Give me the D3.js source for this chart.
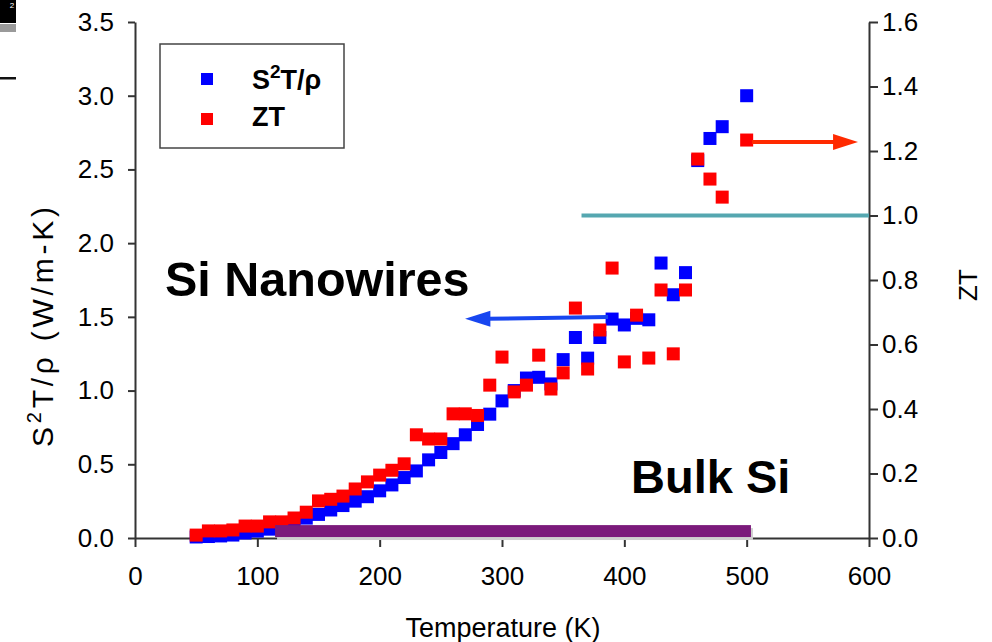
<!DOCTYPE html>
<html>
<head>
<meta charset="utf-8">
<script src="https://cdn.jsdelivr.net/npm/d3@7"></script>
<style>
  body { margin: 0; background: #fff; }
  svg { font-family: "Liberation Sans", Arial, sans-serif; }
</style>
</head>
<body>
<script>
// temperature (K) for each measured point
var temps = [50, 60, 70, 80, 90, 100, 110, 120, 130, 140, 150, 160, 170, 180, 190, 200,
  210, 220, 230, 240, 250, 260, 270, 280, 290, 300, 310, 320, 330, 340, 350, 360,
  370, 380, 390, 400, 410, 420, 430, 440, 450, 460, 470, 480, 500];

// S^2T/rho (W/m-K), left axis
var s2t = [0.007, 0.01, 0.014, 0.02, 0.034, 0.047, 0.06, 0.08, 0.10, 0.135, 0.16, 0.19, 0.22, 0.25, 0.28, 0.32,
  0.36, 0.41, 0.455, 0.53, 0.58, 0.64, 0.70, 0.77, 0.84, 0.93, 1.0, 1.085, 1.09, 1.045, 1.21, 1.36,
  1.22, 1.36, 1.485, 1.445, 1.49, 1.48, 1.865, 1.65, 1.80, 2.56, 2.71, 2.79, 3.0];

// ZT, right axis
var zt = [0.009, 0.022, 0.022, 0.025, 0.037, 0.037, 0.05, 0.05, 0.062, 0.08, 0.115, 0.12, 0.13, 0.152, 0.174, 0.195,
  0.21, 0.23, 0.32, 0.307, 0.307, 0.385, 0.385, 0.38, 0.474, 0.561, 0.453, 0.474, 0.567, 0.462, 0.512, 0.713,
  0.524, 0.645, 0.837, 0.546, 0.691, 0.558, 0.769, 0.571, 0.769, 1.175, 1.113, 1.057, 1.234];

var xTicks = [0, 100, 200, 300, 400, 500, 600];
var leftTicks = [0, 0.5, 1.0, 1.5, 2.0, 2.5, 3.0, 3.5];
var rightTicks = [0, 0.2, 0.4, 0.6, 0.8, 1.0, 1.2, 1.4, 1.6];

var width = 992, height = 642;
var axisColor = '#333';

var svg = d3.select('body').append('svg')
  .attr('width', width)
  .attr('height', height);

var x = d3.scaleLinear().domain([0, 600]).range([135, 869]);
var yL = d3.scaleLinear().domain([0, 3.5]).range([538, 22]);
var yR = d3.scaleLinear().domain([0, 1.6]).range([538, 22]);

// cropped bits of another figure in the top-left corner
svg.append('rect').attr('x', 0).attr('y', 0).attr('width', 16).attr('height', 23).attr('fill', '#000');
svg.append('rect').attr('x', 0).attr('y', 24).attr('width', 16).attr('height', 8).attr('fill', '#9a9a9a');
svg.append('text').attr('x', 12).attr('y', 8).attr('fill', '#fff').attr('font-size', '8px').attr('text-anchor', 'middle').text('2');
svg.append('rect').attr('x', 0).attr('y', 77).attr('width', 16).attr('height', 2.5).attr('fill', '#111');

// axes
function styleAxis(g) {
  g.select('.domain').attr('stroke', axisColor).attr('stroke-width', 2);
  g.selectAll('.tick line').attr('stroke', axisColor).attr('stroke-width', 2);
  g.selectAll('.tick text').attr('fill', '#000').attr('font-size', '26px')
    .attr('font-family', '"Liberation Sans", Arial, sans-serif');
}

svg.append('g')
  .attr('transform', 'translate(0,538)')
  .call(d3.axisBottom(x).tickValues(xTicks).tickFormat(d3.format('d')).tickSize(9).tickSizeOuter(0).tickPadding(20))
  .call(styleAxis);

svg.append('g')
  .attr('transform', 'translate(135,0)')
  .call(d3.axisLeft(yL).tickValues(leftTicks).tickFormat(d3.format('.1f')).tickSize(7).tickSizeOuter(0).tickPadding(14))
  .call(styleAxis);

svg.append('g')
  .attr('transform', 'translate(869,0)')
  .call(d3.axisRight(yR).tickValues(rightTicks).tickFormat(d3.format('.1f')).tickSize(9).tickSizeOuter(0).tickPadding(4))
  .call(styleAxis);

// axis titles
svg.append('text')
  .attr('x', (x(0) + x(600)) / 2 + 1)
  .attr('y', 637)
  .attr('text-anchor', 'middle')
  .attr('font-size', '27px')
  .text('Temperature (K)');

var yt = svg.append('text')
  .attr('transform', 'translate(53,327)rotate(-90)')
  .attr('text-anchor', 'middle')
  .attr('font-size', '30px')
  .attr('textLength', 240)
  .attr('lengthAdjust', 'spacing');
yt.append('tspan').text('S');
yt.append('tspan').attr('font-size', '20px').attr('dy', -12).text('2');
yt.append('tspan').attr('dy', 12).text('T/\u03c1 (W/m-K)');

svg.append('text')
  .attr('transform', 'translate(977,' + ((yR(0) + yR(1.6)) / 2 + 5) + ')rotate(-90)')
  .attr('text-anchor', 'middle')
  .attr('font-size', '26px')
  .text('ZT');

// data markers: blue first, red drawn over
var sz = 13;
var pts = temps.map(function(t, i) { return {t: t, s: s2t[i], z: zt[i]}; });

svg.selectAll('.blue')
  .data(pts)
  .enter()
  .append('rect')
  .attr('class', 'blue')
  .attr('x', function(d) { return x(d.t) - sz / 2; })
  .attr('y', function(d) { return yL(d.s) - sz / 2; })
  .attr('width', sz)
  .attr('height', sz)
  .attr('fill', '#0000ff');

svg.selectAll('.red')
  .data(pts)
  .enter()
  .append('rect')
  .attr('class', 'red')
  .attr('x', function(d) { return x(d.t) - sz / 2; })
  .attr('y', function(d) { return yR(d.z) - sz / 2; })
  .attr('width', sz)
  .attr('height', sz)
  .attr('fill', '#ff0000');

// bulk Si bar (ZT ~ 0.01) with a faint shadow
svg.append('rect')
  .attr('x', x(114.5) + 2)
  .attr('y', yR(0.04) + 3)
  .attr('width', x(503.5) - x(114.5))
  .attr('height', yR(0.003) - yR(0.04))
  .attr('fill', '#cfcfcf');
svg.append('rect')
  .attr('x', x(114.5))
  .attr('y', yR(0.04))
  .attr('width', x(503.5) - x(114.5))
  .attr('height', yR(0.003) - yR(0.04))
  .attr('fill', '#7b1a7b');

// ZT = 1 reference line
svg.append('line')
  .attr('x1', x(365)).attr('x2', x(600))
  .attr('y1', yR(1.0)).attr('y2', yR(1.0))
  .attr('stroke', '#55a7b0')
  .attr('stroke-width', 4);

// arrows
var blue = '#1846f0', red = '#ff2a00';
svg.append('line')
  .attr('x1', x(386.7)).attr('y1', yL(1.499))
  .attr('x2', x(288)).attr('y2', yL(1.487))
  .attr('stroke', blue).attr('stroke-width', 4);
svg.append('path')
  .attr('d', 'M' + x(269.8) + ',' + yL(1.487) + 'L' + x(290.5) + ',' + (yL(1.487) - 8) +
    'L' + x(290.5) + ',' + (yL(1.487) + 8) + 'Z')
  .attr('fill', blue);

svg.append('line')
  .attr('x1', x(504.4)).attr('y1', yR(1.228))
  .attr('x2', x(572)).attr('y2', yR(1.228))
  .attr('stroke', red).attr('stroke-width', 4);
svg.append('path')
  .attr('d', 'M' + x(591) + ',' + yR(1.228) + 'L' + x(570.6) + ',' + (yR(1.228) - 8) +
    'L' + x(570.6) + ',' + (yR(1.228) + 8) + 'Z')
  .attr('fill', red);

// annotations
svg.append('text')
  .attr('x', 165).attr('y', 296)
  .attr('font-size', '48.5px').attr('font-weight', 'bold')
  .text('Si Nanowires');

svg.append('text')
  .attr('x', 631).attr('y', 493)
  .attr('font-size', '47px').attr('font-weight', 'bold')
  .text('Bulk Si');

// legend
var lg = svg.append('g');
lg.append('rect')
  .attr('x', 160).attr('y', 44).attr('width', 184).attr('height', 104)
  .attr('fill', '#fff').attr('stroke', '#444').attr('stroke-width', 1.5);
lg.append('rect').attr('x', 201).attr('y', 73).attr('width', 12).attr('height', 12).attr('fill', '#0000ff');
lg.append('rect').attr('x', 201).attr('y', 113).attr('width', 12).attr('height', 12).attr('fill', '#ff0000');
var l1 = lg.append('text').attr('x', 252).attr('y', 89).attr('font-size', '27px').attr('font-weight', 'bold');
l1.append('tspan').text('S');
l1.append('tspan').attr('font-size', '19px').attr('dy', -11).text('2');
l1.append('tspan').attr('dy', 11).text('T/\u03c1');
lg.append('text').attr('x', 252).attr('y', 126).attr('font-size', '27px').attr('font-weight', 'bold').text('ZT');
</script>
</body>
</html>
